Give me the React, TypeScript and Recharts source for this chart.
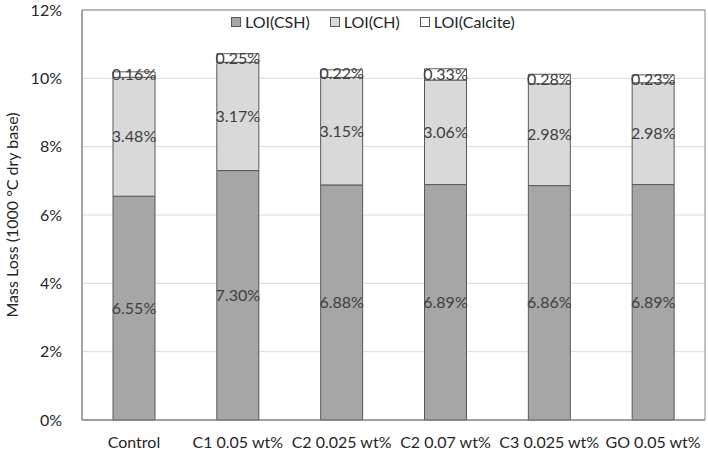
import { BarChart, Bar, XAxis, YAxis, CartesianGrid, LabelList, ReferenceArea } from 'recharts'

const categories = ['Control', 'C1 0.05 wt%', 'C2 0.025 wt%', 'C2 0.07 wt%', 'C3 0.025 wt%', 'GO 0.05 wt%']
const csh = [6.55, 7.3, 6.88, 6.89, 6.86, 6.89]
const ch = [3.48, 3.17, 3.15, 3.06, 2.98, 2.98]
const calcite = [0.16, 0.25, 0.22, 0.33, 0.28, 0.23]
const yTicks = [0, 2, 4, 6, 8, 10, 12]

const series = [
  { key: 'csh', name: 'LOI(CSH)', color: '#a6a6a6' },
  { key: 'ch', name: 'LOI(CH)', color: '#d9d9d9' },
  { key: 'calcite', name: 'LOI(Calcite)', color: '#ffffff' },
]

const data = categories.map((name, i) => ({ name, csh: csh[i], ch: ch[i], calcite: calcite[i] }))

const font = 'Lato, sans-serif'

// legend sits inside the plot frame, so it's drawn as an overlay
function LegendBox() {
  return (
    <div
      style={{
        position: 'absolute',
        left: 231,
        top: 13,
        display: 'flex',
        gap: 20,
        fontFamily: font,
        fontSize: 16,
        color: '#262626',
        lineHeight: '18px',
      }}
    >
      {series.map((s) => (
        <div key={s.key} style={{ display: 'flex', alignItems: 'center', gap: 4 }}>
          <span style={{ width: 8, height: 8, background: s.color, border: '1px solid #595959' }} />
          <span>{s.name}</span>
        </div>
      ))}
    </div>
  )
}

const fmt = (v: number) => `${v.toFixed(2)}%`

export default function App() {
  return (
    <div style={{ position: 'absolute', left: 0, top: 0, width: 708, height: 452, background: '#fff' }}>
      <BarChart width={708} height={452} data={data} margin={{ top: 10, right: 3, bottom: 2, left: 0 }} barSize={42}>
        <CartesianGrid vertical={false} stroke="#d9d9d9" />
        <XAxis
          dataKey="name"
          height={30}
          tickLine={false}
          axisLine={{ stroke: '#868686' }}
          tick={{ fontFamily: font, fontSize: 16, fill: '#262626' }}
          tickMargin={11}
          interval={0}
        />
        <YAxis
          domain={[0, 12]}
          ticks={yTicks}
          width={82}
          tickLine={false}
          axisLine={{ stroke: '#868686' }}
          tickFormatter={(v: number) => `${v}%`}
          tick={{ fontFamily: font, fontSize: 16, fill: '#262626' }}
          tickMargin={14}
          label={{
            value: 'Mass Loss (1000 °C dry base)',
            angle: -90,
            position: 'insideLeft',
            offset: 12,
            style: { textAnchor: 'middle', fontFamily: font, fontSize: 16, fill: '#262626' },
          }}
        />
        <ReferenceArea y1={0} y2={12} fill="none" stroke="#868686" strokeWidth={1} />
        {series.map((s) => (
          <Bar key={s.key} dataKey={s.key} name={s.name} stackId="a" fill={s.color} stroke="#595959" strokeWidth={1} isAnimationActive={false}>
            <LabelList dataKey={s.key} position="center" formatter={fmt as never} style={{ fontFamily: font, fontSize: 16, fill: '#404040' }} />
          </Bar>
        ))}
      </BarChart>
      <LegendBox />
    </div>
  )
}
